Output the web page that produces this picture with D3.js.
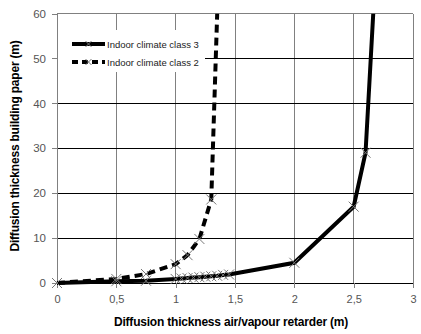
<!DOCTYPE html>
<html><head><meta charset="utf-8">
<script src="https://cdn.jsdelivr.net/npm/d3@7"></script>
<style>body{margin:0;background:#fff;} svg{display:block;font-family:Arial,"Liberation Sans",sans-serif;}</style>
</head><body>
<script>
const class3X = [0, 0.5, 0.75, 1, 1.05, 1.1, 1.15, 1.2, 1.25, 1.3, 1.35, 1.4, 1.45, 2, 2.5, 2.6, 2.665];
const class3Y = [0, 0.4, 0.5, 0.9, 1.0, 1.1, 1.2, 1.3, 1.4, 1.5, 1.6, 1.8, 1.9, 4.5, 17, 29, 60];
const class2X = [0, 0.5, 0.75, 1, 1.1, 1.2, 1.3, 1.35];
const class2Y = [0, 0.9, 2.0, 4.2, 6.2, 9.8, 18.6, 60];
const xTicks = [0, 0.5, 1, 1.5, 2, 2.5, 3];
const xTickLabels = ["0", "0,5", "1", "1,5", "2", "2,5", "3"];
const yTicks = [0, 10, 20, 30, 40, 50, 60];
const seriesNames = ["Indoor climate class 3", "Indoor climate class 2"];

const W = 421, H = 334;
const m = {l: 57, r: 8, t: 13.5, b: 51};
const svg = d3.select("body").append("svg").attr("width", W).attr("height", H);
const x = d3.scaleLinear().domain([0, 3]).range([m.l, W - m.r]);
const y = d3.scaleLinear().domain([0, 60]).range([H - m.b, m.t]);

// vertical gridlines
svg.append("g").selectAll("line").data(xTicks.slice(1)).join("line")
  .attr("x1", d => x(d)).attr("x2", d => x(d)).attr("y1", y(0)).attr("y2", y(60))
  .attr("stroke", "#808080").attr("stroke-width", 1).attr("shape-rendering", "crispEdges");
// horizontal gridlines
svg.append("g").selectAll("line").data(yTicks.slice(1)).join("line")
  .attr("x1", x(0)).attr("x2", x(3)).attr("y1", d => y(d)).attr("y2", d => y(d))
  .attr("stroke", d => d === 60 ? "#808080" : "#000").attr("stroke-width", 1).attr("shape-rendering", "crispEdges");

// axes
const xAxis = svg.append("g").attr("transform", `translate(0,${y(0)})`)
  .call(d3.axisBottom(x).tickValues(xTicks).tickFormat((d, i) => xTickLabels[i]).tickSize(5).tickPadding(7));
xAxis.select(".domain").attr("stroke", "#000");
xAxis.selectAll(".tick line").attr("stroke", "#808080");
xAxis.selectAll("text").attr("font-size", 11).attr("fill", "#555").attr("font-family", "Arial, 'Liberation Sans', sans-serif");
const yAxis = svg.append("g").attr("transform", `translate(${x(0)},0)`)
  .call(d3.axisLeft(y).tickValues(yTicks).tickSize(5).tickPadding(6));
yAxis.select(".domain").attr("stroke", "#808080");
yAxis.selectAll(".tick line").attr("stroke", "#808080");
yAxis.selectAll("text").attr("font-size", 11.5).attr("fill", "#555").attr("font-family", "Arial, 'Liberation Sans', sans-serif");
svg.selectAll(".domain, .tick line").attr("shape-rendering", "crispEdges");

const clip = svg.append("clipPath").attr("id", "clip").append("rect")
  .attr("x", x(0) - 6).attr("y", y(60)).attr("width", x(3) - x(0) + 12).attr("height", y(0) - y(60) + 10);

const line = d3.line().x(d => x(d[0])).y(d => y(d[1]));
const d3pts = class3X.map((v, i) => [v, class3Y[i]]);
const d2pts = class2X.map((v, i) => [v, class2Y[i]]);
const g = svg.append("g").attr("clip-path", "url(#clip)");

function markers(pts) {
  const s = 5;
  g.append("g").selectAll("path").data(pts.filter(p => p[1] < 60)).join("path")
    .attr("d", p => `M${x(p[0]) - s},${y(p[1]) - s}L${x(p[0]) + s},${y(p[1]) + s}M${x(p[0]) - s},${y(p[1]) + s}L${x(p[0]) + s},${y(p[1]) - s}`)
    .attr("stroke", "#777").attr("stroke-width", 1).attr("fill", "none");
}
g.append("path").datum(d2pts).attr("d", line).attr("fill", "none").attr("stroke", "#000")
  .attr("stroke-width", 4).attr("stroke-dasharray", "8,5");
g.append("path").datum(d3pts).attr("d", line).attr("fill", "none").attr("stroke", "#000")
  .attr("stroke-width", 4);
markers(d2pts);
markers(d3pts);

// legend
const lg = svg.append("g");
lg.append("rect").attr("x", x(0) + 1).attr("y", 30).attr("width", 147).attr("height", 42).attr("fill", "#fff");
[0, 1].forEach(i => {
  const ly = 44 + i * 18;
  lg.append("line").attr("x1", 72).attr("x2", 105).attr("y1", ly).attr("y2", ly)
    .attr("stroke", "#000").attr("stroke-width", 4).attr("stroke-dasharray", i ? "6,4" : null);
  const cx = 88.5, s = 3;
  lg.append("path").attr("d", `M${cx - s},${ly - s}L${cx + s},${ly + s}M${cx - s},${ly + s}L${cx + s},${ly - s}`)
    .attr("stroke", "#777").attr("stroke-width", 1);
  lg.append("text").attr("x", 107).attr("y", ly + 3.5).attr("font-size", 9.5).attr("fill", "#222")
    .text(seriesNames[i]);
});

// axis titles
svg.append("text").attr("x", 231).attr("y", 326).attr("text-anchor", "middle")
  .attr("font-size", 12).attr("font-weight", "bold").attr("letter-spacing", -0.2)
  .text("Diffusion thickness air/vapour retarder (m)");
svg.append("text").attr("transform", `translate(19,146) rotate(-90)`).attr("text-anchor", "middle")
  .attr("font-size", 12).attr("font-weight", "bold").attr("letter-spacing", -0.2)
  .text("Diffusion thickness building paper (m)");
</script>
</body></html>
